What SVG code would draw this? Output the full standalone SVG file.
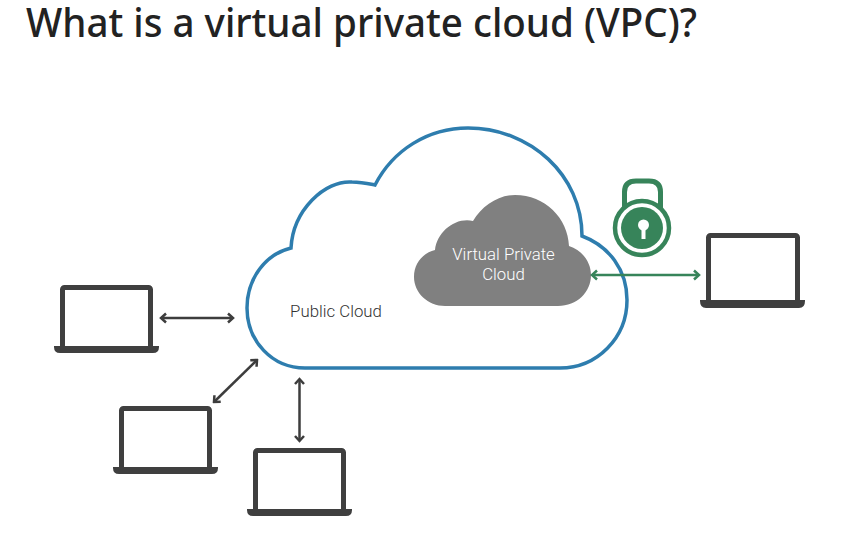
<svg xmlns="http://www.w3.org/2000/svg" width="867" height="555" viewBox="0 0 867 555">
<style>
.title{font-family:"Noto Sans","Open Sans",sans-serif;font-weight:500;font-size:39px;fill:#222}
.lbl{font-family:Roboto,"Liberation Sans",sans-serif;font-weight:300;font-size:16.800px;text-anchor:middle}
.conn{fill:none;stroke:#3d3d3d;stroke-width:2.500}
.green{stroke:#37845a}
</style>
<defs>
<marker id="hd" viewBox="-7 -6 9 12" refX="0" refY="0" markerWidth="9" markerHeight="12" markerUnits="userSpaceOnUse" orient="auto-start-reverse"><path d="M-5-4.500L0 0L-5 4.500" fill="none" stroke="#3d3d3d" stroke-width="2.500"/></marker>
<marker id="hg" viewBox="-7 -6 9 12" refX="0" refY="0" markerWidth="9" markerHeight="12" markerUnits="userSpaceOnUse" orient="auto-start-reverse"><path d="M-5-4.500L0 0L-5 4.500" fill="none" stroke="#37845a" stroke-width="2.500"/></marker>
<g id="laptop">
<rect x="2.500" y="2.500" width="88" height="61" rx="2" fill="#fff" stroke="#3f3f3f" stroke-width="5"/>
<path d="M-6 61H99V62Q99 68 93 68H0Q-6 68-6 62Z" fill="#3f3f3f"/>
</g>
</defs>
<text class="title" x="26" y="37" textLength="671" lengthAdjust="spacingAndGlyphs">What is a virtual private cloud (VPC)?</text>
<g id="public-cloud">
<path d="M305 368C272 368 247 341 247 308C247 278 266 254 291 248C293 210 325 180 352 182C362 182 370 184 375 185C393 150 428 128 468 128C530 128 582 175 582 236C609 246 627 270 627 300C627 338 597 368 560 368Z" fill="#fff" stroke="#2e7dae" stroke-width="3.500"/>
<text class="lbl" x="336" y="317" fill="#333">Public Cloud</text>
</g>
<g id="virtual-private-cloud">
<path d="M445 306C428 306 414 293 414 277C414 263 423 253 435 250C437 232 455 217 473 221C482 206 498 195 515 195C545 195 568 218 569 246C582 250 591 262 591 275C591 292 577 306 558 306Z" fill="#808080"/>
<text class="lbl" x="503.500" y="260" fill="#fff">Virtual Private</text>
<text class="lbl" x="503.500" y="280" fill="#fff">Cloud</text>
</g>
<g id="lock">
<path d="M624.500 208V192Q624.500 181 636 181H649Q660.500 181 660.500 192V208" fill="none" stroke="#37845a" stroke-width="5"/>
<circle cx="642" cy="228" r="27" fill="#fff" stroke="#37845a" stroke-width="4.500"/>
<circle cx="642" cy="228" r="21" fill="#37845a"/>
<circle cx="643.500" cy="225" r="5.500" fill="#fff"/>
<rect x="641.500" y="226" width="4" height="13" fill="#fff"/>
</g>
<g id="laptop-1"><use href="#laptop" x="60" y="285"/></g>
<g id="laptop-2"><use href="#laptop" x="119" y="406"/></g>
<g id="laptop-3"><use href="#laptop" x="253" y="448"/></g>
<g id="laptop-4">
<rect x="708.500" y="235.500" width="89" height="68" rx="2" fill="#fff" stroke="#3f3f3f" stroke-width="5"/>
<path d="M700 300H805V301Q805 308 799 308H706Q700 308 700 301Z" fill="#3f3f3f"/>
</g>
<g id="connectors">
<path class="conn" d="M161 318H233" marker-start="url(#hd)" marker-end="url(#hd)"/>
<path class="conn" d="M214 402L257 360" marker-start="url(#hd)" marker-end="url(#hd)"/>
<path class="conn" d="M299.500 379V441" marker-start="url(#hd)" marker-end="url(#hd)"/>
<path class="conn green" d="M592 275H699" marker-start="url(#hg)" marker-end="url(#hg)"/>
</g>
</svg>
